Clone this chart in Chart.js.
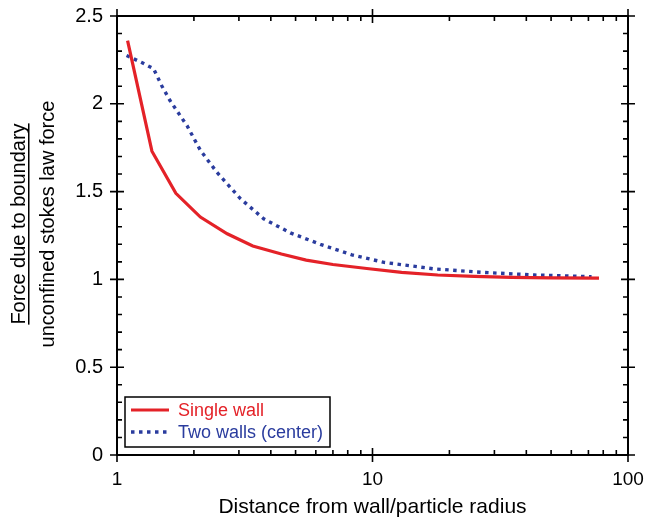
<!DOCTYPE html>
<html>
<head>
<meta charset="utf-8">
<script src="https://cdn.jsdelivr.net/npm/chart.js@4/dist/chart.umd.min.js"></script>
<style>
  html, body { margin: 0; padding: 0; background: #fff; }
  #wrap { width: 647px; height: 523px; }
</style>
</head>
<body>
<div id="wrap"><canvas id="forceChart" width="647" height="523"></canvas></div>
<script>
// distances (wall/particle radius) and force ratios
const singleX = [1.1, 1.37, 1.7, 2.12, 2.7, 3.4, 4.4, 5.5, 7, 9.5, 13, 18, 25, 35, 50, 77];
const singleY = [2.36, 1.73, 1.49, 1.355, 1.26, 1.19, 1.145, 1.11, 1.085, 1.062, 1.04, 1.025, 1.017, 1.012, 1.009, 1.007];
const twoX = [1.09, 1.25, 1.39, 1.5, 1.61, 1.88, 2.12, 2.46, 3.04, 3.75, 4.77, 6.25, 8.3, 11.1, 17.4, 27, 43, 72];
const twoY = [2.275, 2.235, 2.2, 2.1, 2.02, 1.875, 1.735, 1.61, 1.46, 1.345, 1.265, 1.2, 1.14, 1.097, 1.06, 1.04, 1.025, 1.015];
const seriesNames = ['Single wall', 'Two walls (center)'];
const xLabelTicks = [1, 10, 100];
const xMinorTicks = [2, 3, 4, 5, 6, 7, 8, 9, 20, 30, 40, 50, 60, 70, 80, 90];
const yMajorTicks = [0, 0.5, 1, 1.5, 2, 2.5];
const yTitle = ['Force due to boundary', 'unconfined stokes law force'];
const xTitle = 'Distance from wall/particle radius';

const RED = 'rgb(228, 34, 40)';
const BLUE = 'rgb(42, 60, 158)';
const FONT = '"Liberation Sans", Arial, Helvetica, sans-serif';

function pairs(xs, ys) {
    return xs.map((x, i) => ({ x: x, y: ys[i] }));
}

function noEdgePadding(scale) {
    scale.paddingLeft = 0;
    scale.paddingRight = 0;
    scale.paddingTop = 0;
    scale.paddingBottom = 0;
}

// frame, tick marks, y title and legend
const decorPlugin = {
    id: 'decor',
    afterDraw(chart) {
        const ctx = chart.ctx;
        const a = chart.chartArea;
        const xs = chart.scales.x;
        const ys = chart.scales.y;
        ctx.save();
        ctx.strokeStyle = '#000';
        ctx.lineWidth = 2;
        ctx.strokeRect(a.left, a.top, a.right - a.left, a.bottom - a.top);

        ctx.lineWidth = 1.6;
        ctx.beginPath();
        // x ticks, top and bottom
        xLabelTicks.forEach(v => {
            const px = xs.getPixelForValue(v);
            ctx.moveTo(px, a.bottom - 7); ctx.lineTo(px, a.bottom + 7);
            ctx.moveTo(px, a.top - 7); ctx.lineTo(px, a.top + 7);
        });
        xMinorTicks.forEach(v => {
            const px = xs.getPixelForValue(v);
            ctx.moveTo(px, a.bottom); ctx.lineTo(px, a.bottom - 5);
            ctx.moveTo(px, a.top); ctx.lineTo(px, a.top + 5);
        });
        // y ticks, left and right
        for (let i = 0; i <= 25; i++) {
            const v = i / 10;
            const py = ys.getPixelForValue(v);
            if (i % 5 === 0) {
                ctx.moveTo(a.left - 7, py); ctx.lineTo(a.left + 7, py);
                ctx.moveTo(a.right - 7, py); ctx.lineTo(a.right + 7, py);
            } else {
                ctx.moveTo(a.left, py); ctx.lineTo(a.left + 5, py);
                ctx.moveTo(a.right, py); ctx.lineTo(a.right - 5, py);
            }
        }
        ctx.stroke();

        // y title as a fraction
        const cy = 224;
        ctx.fillStyle = '#000';
        ctx.font = '20px ' + FONT;
        ctx.textAlign = 'center';
        ctx.textBaseline = 'middle';
        ctx.save();
        ctx.translate(19, cy);
        ctx.rotate(-Math.PI / 2);
        ctx.fillText(yTitle[0], 0, 0);
        const w0 = ctx.measureText(yTitle[0]).width;
        ctx.fillRect(-w0 / 2, 9, w0, 1.5);
        ctx.restore();
        ctx.save();
        ctx.translate(48, cy);
        ctx.rotate(-Math.PI / 2);
        ctx.fillText(yTitle[1], 0, 0);
        ctx.restore();

        // legend
        const lx = 125, ly = 397, lw = 205, lh = 50;
        ctx.fillStyle = '#fff';
        ctx.fillRect(lx, ly, lw, lh);
        ctx.strokeStyle = '#000';
        ctx.lineWidth = 1.5;
        ctx.strokeRect(lx, ly, lw, lh);
        const rows = [ly + 13, ly + 35];
        chart.data.datasets.forEach((ds, i) => {
            ctx.beginPath();
            ctx.strokeStyle = ds.borderColor;
            ctx.lineWidth = ds.borderWidth;
            ctx.setLineDash(ds.borderDash || []);
            ctx.moveTo(lx + 6, rows[i]);
            ctx.lineTo(lx + 44, rows[i]);
            ctx.stroke();
            ctx.setLineDash([]);
            ctx.fillStyle = ds.borderColor;
            ctx.font = '18px ' + FONT;
            ctx.textAlign = 'left';
            ctx.textBaseline = 'middle';
            ctx.fillText(ds.label, lx + 53, rows[i] + 1);
        });
        ctx.restore();
    }
};

new Chart(document.getElementById('forceChart').getContext('2d'), {
    type: 'line',
    data: {
        datasets: [{
            label: seriesNames[0],
            data: pairs(singleX, singleY),
            borderColor: RED,
            borderWidth: 3.2,
            pointRadius: 0,
            tension: 0
        }, {
            label: seriesNames[1],
            data: pairs(twoX, twoY),
            borderColor: BLUE,
            borderWidth: 3.4,
            borderDash: [3.5, 4.5],
            pointRadius: 0,
            tension: 0
        }]
    },
    options: {
        responsive: false,
        animation: false,
        layout: { padding: { top: 16, right: 19, bottom: 0, left: 0 } },
        plugins: { legend: { display: false }, tooltip: { enabled: false } },
        scales: {
            x: {
                type: 'logarithmic',
                min: 1,
                max: 100,
                afterFit(scale) { scale.height = 68; noEdgePadding(scale); },
                grid: { display: false, drawTicks: false },
                border: { display: false },
                ticks: {
                    autoSkip: false,
                    maxRotation: 0,
                    padding: 13,
                    color: '#000',
                    font: { size: 19, family: FONT },
                    callback: v => xLabelTicks.includes(v) ? String(v) : ''
                },
                title: {
                    display: true,
                    text: xTitle,
                    color: '#000',
                    font: { size: 21, family: FONT },
                    padding: { top: 0, bottom: 3 }
                }
            },
            y: {
                min: 0,
                max: 2.5,
                afterFit(scale) { scale.width = 117; noEdgePadding(scale); },
                afterBuildTicks(scale) { scale.ticks = yMajorTicks.map(v => ({ value: v })); },
                grid: { display: false, drawTicks: false },
                border: { display: false },
                ticks: {
                    padding: 14,
                    color: '#000',
                    font: { size: 20, family: FONT },
                    callback: v => String(v)
                }
            }
        }
    },
    plugins: [decorPlugin]
});
</script>
</body>
</html>
